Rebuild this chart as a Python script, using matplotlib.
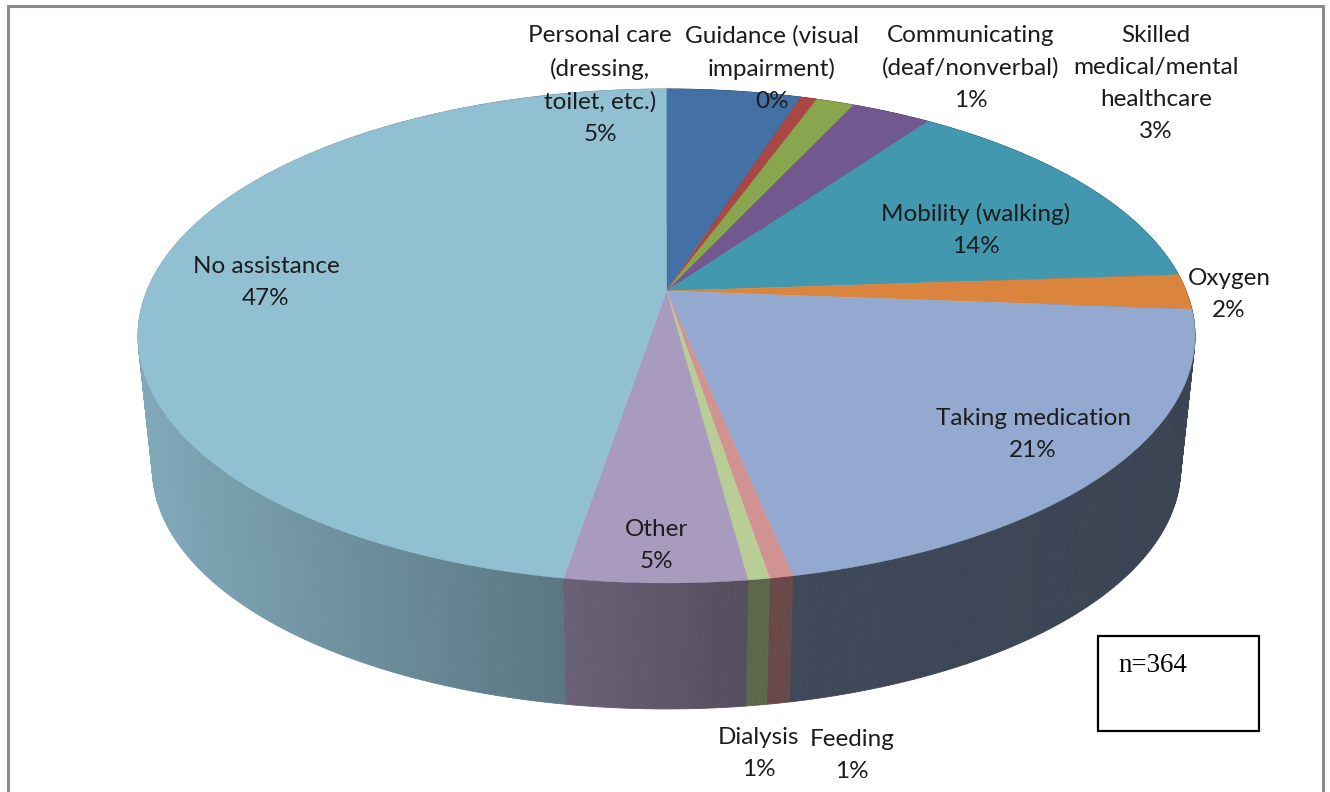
#!/usr/bin/env python

import numpy as np
import matplotlib
matplotlib.use("Agg")
import matplotlib.pyplot as plt

# slices, clockwise from 12 o'clock (unrounded shares)
names = ["Personal care", "Guidance", "Communicating", "Skilled", "Mobility", "Oxygen",
         "Taking medication", "Feeding", "Dialysis", "Other", "No assistance"]
shares = [4.9, 0.6, 1.4, 2.9, 14.1, 2.3, 20.6, 0.6, 0.55, 4.65, 47.4]
top_colors = ["#4471a5", "#aa4643", "#89a54e", "#71588f", "#4198af", "#db843d",
              "#93a9cf", "#d19392", "#b9cd96", "#a99bbd", "#92c0d3"]
# wall brightness at the first edge of each slice and at the far side of it
wall_shade = [(.5, .5), (.5, .5), (.5, .5), (.5, .5), (.5, .5), (.5, .5),
              (.40, .43), (.50, .50), (.50, .50), (.50, .63), (.62, .88)]

label_text = ["Personal care\n(dressing,\ntoilet, etc.)\n5%", "Guidance (visual\nimpairment)\n0%",
              "Communicating\n(deaf/nonverbal)\n1%", "Skilled\nmedical/mental\nhealthcare\n3%",
              "Mobility (walking)\n14%", "Oxygen\n2%", "Taking medication\n21%",
              "Feeding\n1%", "Dialysis\n1%", "Other\n5%", "No assistance\n47%"]
label_x = [600, 772, 971, 1156, 976, 1229, 1033, 852, 759, 656, 266]
label_y = [25, 25, 25, 25, 203, 268, 408, 729, 727, 519, 256]

# pie geometry in pixels
CX = 666.5
TOP_CY = 291
BOT_CY = 425
A = 519.7
B = 238.8
K = 0.182
BOT_SCALE = 0.9726


def rim(theta, cy, scale=1.0):
  d = 1 + K*np.cos(theta)
  return CX + scale*A*np.sin(theta)/d, cy - scale*B*np.cos(theta)/d


def main():
  plt.rcParams["font.family"] = ["Lato", "DejaVu Sans"]
  fig = plt.figure(figsize=(13.3, 7.92), dpi=100)
  ax = fig.add_axes([0, 0, 1, 1])
  ax.set_xlim(0, 1330)
  ax.set_ylim(792, 0)
  ax.axis("off")

  edges = np.cumsum([0] + shares)/np.sum(shares)*2*np.pi

  # walls, back to front; the top face covers whatever is behind it
  strips = []
  for i in range(len(shares)):
    n = max(int((edges[i+1]-edges[i])/0.01), 2)
    th = np.linspace(edges[i], edges[i+1], n+1)
    rgb = np.array(matplotlib.colors.to_rgb(top_colors[i]))
    xs = rim(th, TOP_CY)[0]
    far = np.abs(xs - xs[0]).max()
    for j in range(n):
      t = np.array([th[j], th[j+1]])
      x0, y0 = rim(t, TOP_CY)
      x1, y1 = rim(t, BOT_CY, BOT_SCALE)
      f = wall_shade[i][0] + (wall_shade[i][1]-wall_shade[i][0])*abs(x0[0]-xs[0])/far
      strips.append((-np.cos(t.mean()), [x0[0], x0[1], x1[1], x1[0]],
                     [y0[0], y0[1], y1[1], y1[0]], tuple(rgb*f)))
  strips.sort(key=lambda s: s[0])
  for _, sx, sy, c in strips:
    ax.fill(sx, sy, facecolor=c, edgecolor=c, lw=0.6, zorder=1)

  for i in range(len(shares)):
    th = np.linspace(edges[i], edges[i+1], 200)
    x, y = rim(th, TOP_CY)
    ax.fill(np.r_[CX, x], np.r_[TOP_CY, y], facecolor=top_colors[i],
            edgecolor=top_colors[i], lw=0.3, zorder=2)

  for s, x, y in zip(label_text, label_x, label_y):
    ax.text(x, y, s, ha="center", va="top", fontsize=17.5, color="#1c1c1c",
            linespacing=1.65, zorder=3)

  # chart frame, open at the bottom
  ax.plot([8, 8, 1323, 1323], [792, 6, 6, 792], color="#8c8c8c", lw=2.2, zorder=4,
          solid_joinstyle="miter")

  # n box
  ax.add_patch(plt.Rectangle((1098, 636), 161, 95, facecolor="white", edgecolor="black",
                             lw=1.6, zorder=5))
  ax.text(1118, 672, "n=364", family="Liberation Serif", fontsize=19.4, color="black",
          ha="left", va="baseline", zorder=6)

  fig.savefig("out.png", dpi=100)


if __name__ == "__main__":
  main()
